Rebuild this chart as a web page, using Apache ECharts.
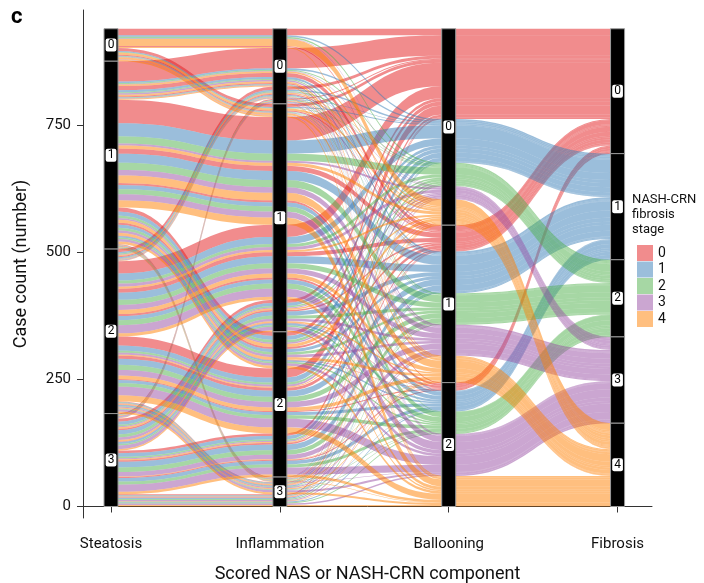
<!DOCTYPE html>
<html><head><meta charset="utf-8">
<script src="https://cdn.jsdelivr.net/npm/echarts@6/dist/echarts.min.js"></script>
<style>html,body{margin:0;padding:0;background:#fff}#c{width:704px;height:583px}</style>
</head><body><div id="c"></div>
<script>
// ---- data ----
const axisNames = ['Steatosis', 'Inflammation', 'Ballooning', 'Fibrosis'];
const axisLevels = [['0','1','2','3'], ['0','1','2','3'], ['0','1','2'], ['0','1','2','3','4']];
const fibrosisStages = ['0', '1', '2', '3', '4'];
const yTicks = [0, 250, 500, 750];
// case counts per (steatosis s, inflammation i): rows = ballooning 0..2, columns = fibrosis 0..4
const s0_i0 = [[13,3,3,1,14],[2,0,0,0,2],[0,0,0,0,0]];
const s0_i1 = [[6,2,1,0,4],[2,1,1,1,4],[0,0,0,1,3]];
const s0_i2 = [[0,0,0,0,0],[0,0,0,0,0],[0,0,0,0,0]];
const s0_i3 = [[0,0,0,0,0],[0,0,0,0,0],[0,0,0,0,0]];
const s1_i0 = [[40,3,2,1,3],[8,4,2,3,3],[2,1,1,1,2]];
const s1_i1 = [[46,26,14,4,6],[10,18,14,11,15],[4,8,10,12,14]];
const s1_i2 = [[8,8,5,3,6],[4,6,5,5,5],[1,3,3,5,5]];
const s1_i3 = [[1,1,0,0,1],[1,1,1,0,1],[0,0,1,1,1]];
const s2_i0 = [[6,3,2,1,2],[2,2,1,1,1],[0,1,0,1,1]];
const s2_i1 = [[24,14,6,6,4],[8,14,10,10,8],[4,8,10,16,6]];
const s2_i2 = [[18,10,4,4,2],[6,12,10,11,7],[2,6,7,17,12]];
const s2_i3 = [[1,1,1,1,2],[1,2,1,2,2],[0,1,1,4,4]];
const s3_i0 = [[2,1,1,0,1],[1,1,0,1,0],[0,0,0,1,1]];
const s3_i1 = [[6,6,3,2,3],[3,8,6,5,3],[1,4,3,7,3]];
const s3_i2 = [[5,7,3,2,2],[3,11,9,9,1],[2,7,6,14,5]];
const s3_i3 = [[2,1,1,1,1],[1,2,2,2,1],[0,2,2,3,3]];

// ---- styles ----
const stageColors = ['rgba(228,26,28,0.5)','rgba(55,126,184,0.5)','rgba(77,175,74,0.5)','rgba(152,78,163,0.5)','rgba(255,127,0,0.5)'];
const FONT = 'Roboto, "Liberation Sans", sans-serif';
const HW = 0.0415; // half width of stratum bars (x units)

// ---- alluvial layout (ggalluvial zigzag lode ordering) ----
const blocks = [[s0_i0,s0_i1,s0_i2,s0_i3],[s1_i0,s1_i1,s1_i2,s1_i3],[s2_i0,s2_i1,s2_i2,s2_i3],[s3_i0,s3_i1,s3_i2,s3_i3]];
const combos = [];
blocks.forEach((row, s) => row.forEach((m, i) => m.forEach((fr, b) => fr.forEach((n, f) => {
  if (n > 0) combos.push({lv: [s, i, b, f], n: n, pos: []});
}))));
const total = combos.reduce((a, c) => a + c.n, 0);
const axisKeys = [[0,1,2,3],[1,0,2,3],[2,3,1,0],[3,2,1,0]];
axisKeys.forEach((keys, k) => {
  const sorted = combos.slice().sort((a, b) => {
    for (const q of keys) { if (a.lv[q] !== b.lv[q]) return a.lv[q] - b.lv[q]; }
    return 0;
  });
  let p = total;
  sorted.forEach(c => { c.pos[k] = [p, p - c.n]; p -= c.n; });
});
const strataData = [];
axisLevels.forEach((levels, k) => levels.forEach((lab, L) => {
  const sel = combos.filter(c => c.lv[k] === L);
  if (!sel.length) return;
  const top = Math.max(...sel.map(c => c.pos[k][0]));
  const bot = Math.min(...sel.map(c => c.pos[k][1]));
  strataData.push([k + 1, top, bot, lab]);
}));
const flowsByStage = fibrosisStages.map(() => []);
for (let k = 0; k < 3; k++) {
  combos.forEach(c => {
    flowsByStage[c.lv[3]].push([k + 1 + HW, c.pos[k][0], c.pos[k][1], k + 2 - HW, c.pos[k + 1][0], c.pos[k + 1][1]]);
  });
}

function bez(p0, p1, p2, p3, t) {
  const u = 1 - t;
  return u*u*u*p0 + 3*u*u*t*p1 + 3*u*t*t*p2 + t*t*t*p3;
}
function renderFlow(params, api) {
  const A = api.coord([api.value(0), api.value(1)]);
  const D = api.coord([api.value(0), api.value(2)]);
  const B = api.coord([api.value(3), api.value(4)]);
  const C = api.coord([api.value(3), api.value(5)]);
  const N = 24, pts = [];
  const mx = (A[0] + B[0]) / 2;
  for (let j = 0; j <= N; j++) {
    const t = j / N;
    pts.push([bez(A[0], mx, mx, B[0], t), bez(A[1], A[1], B[1], B[1], t)]);
  }
  for (let j = 0; j <= N; j++) {
    const t = j / N;
    pts.push([bez(C[0], mx, mx, D[0], t), bez(C[1], C[1], D[1], D[1], t)]);
  }
  return {type: 'polygon', shape: {points: pts}, style: {fill: api.visual('color')}};
}
function renderStratum(params, api) {
  const x = api.value(0);
  const p1 = api.coord([x - HW, api.value(1)]);
  const p2 = api.coord([x + HW, api.value(2)]);
  const lab = strataData[params.dataIndex][3];
  return {type: 'group', children: [
    {type: 'rect', shape: {x: p1[0], y: p1[1], width: p2[0] - p1[0], height: p2[1] - p1[1]},
     style: {fill: '#000', stroke: '#9a9a9a', lineWidth: 1}},
    {type: 'text', style: {text: lab, x: (p1[0] + p2[0]) / 2, y: (p1[1] + p2[1]) / 2,
      align: 'center', verticalAlign: 'middle', fill: '#000', fontSize: 12, fontFamily: FONT,
      backgroundColor: '#fff', borderRadius: 2, padding: [1, 2, 0, 2]}}
  ]};
}

const chart = echarts.init(document.getElementById('c'), null, {renderer: 'canvas'});
const series = fibrosisStages.map((name, f) => ({
  type: 'custom', name: name, coordinateSystem: 'cartesian2d',
  itemStyle: {color: stageColors[f]}, renderItem: renderFlow, data: flowsByStage[f],
  encode: {x: [0, 3], y: [1, 2, 4, 5]}, silent: true, clip: false, z: 2
}));
series.push({
  type: 'custom', name: 'strata', coordinateSystem: 'cartesian2d', renderItem: renderStratum,
  data: strataData.map(d => d.slice(0, 3)), encode: {x: 0, y: [1, 2]}, silent: true, clip: false, z: 3
});

chart.setOption({
  animation: false,
  textStyle: {fontFamily: FONT},
  grid: {left: 83, right: 52, top: 10, bottom: 65, containLabel: false, outerBoundsMode: 'none'},
  xAxis: {
    type: 'value', min: 0.834, max: 4.204,
    name: 'Scored NAS or NASH-CRN component', nameLocation: 'middle', nameGap: 47,
    nameTextStyle: {fontSize: 18, color: '#111', fontFamily: FONT},
    axisLine: {show: true, lineStyle: {color: '#333', width: 1}},
    axisTick: {show: true, length: 6, customValues: [1, 2, 3, 4], lineStyle: {color: '#333'}},
    axisLabel: {customValues: [1, 2, 3, 4], formatter: v => axisNames[Math.round(v) - 1],
      fontSize: 15, color: '#111', margin: 19},
    splitLine: {show: false}
  },
  yAxis: {
    type: 'value', min: -22.65, max: 977.9,
    name: 'Case count (number)', nameLocation: 'middle', nameGap: 53, nameRotate: 90,
    nameTextStyle: {fontSize: 18, color: '#111', fontFamily: FONT},
    axisLine: {show: true, lineStyle: {color: '#333', width: 1}},
    axisTick: {show: true, length: 6, customValues: yTicks, lineStyle: {color: '#333'}},
    axisLabel: {customValues: yTicks, fontSize: 15, color: '#111', margin: 12},
    splitLine: {show: false}
  },
  legend: {
    data: fibrosisStages, orient: 'vertical', left: 632, top: 240,
    itemWidth: 16, itemHeight: 16, itemGap: 0.5, icon: 'rect', selectedMode: false,
    textStyle: {fontSize: 14, color: '#111', fontFamily: FONT}
  },
  graphic: [
    {type: 'text', left: 11, top: 6, style: {text: 'c', font: 'bold 22px ' + FONT, fill: '#000'}},
    {type: 'text', left: 632, top: 192, style: {text: 'NASH-CRN\nfibrosis\nstage', fontSize: 13, lineHeight: 15, fill: '#111', fontFamily: FONT}}
  ],
  series: series
});
</script></body></html>
